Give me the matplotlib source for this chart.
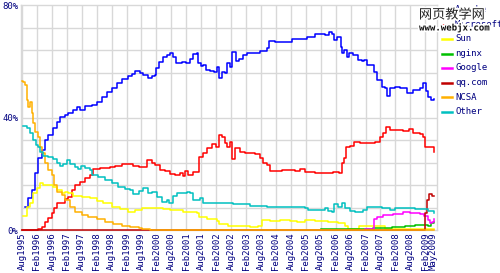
#!/usr/bin/env python3
"""
Web server market share, Aug 1995 - May 2009 (Netcraft style chart).
"""

import matplotlib
matplotlib.use("Agg")
import matplotlib.pyplot as plt
import matplotlib.patheffects as pe

# x values are months since Aug 1995, y values are market share in percent
apache_m = [1.2, 2.5, 3.9, 5.2, 6.5, 7.9, 9.2, 10.6, 12.6, 13.9, 15.3, 17.3, 18.6, 20.6, 22.0,
            23.3, 25.3, 28.0, 30.0, 32.0, 34.0, 36.0, 38.0, 40.0, 42.7, 44.1, 45.4, 47.4, 48.7,
            50.5, 52.1, 53.4, 53.8, 55.0, 56.6, 58.2, 59.4, 60.6, 61.8, 64.3, 65.9, 67.5, 68.7,
            70.3, 70.7, 71.9, 72.7, 73.9, 75.5, 77.1, 78.3, 79.1, 80.3, 81.5, 82.3, 83.5, 84.3,
            85.9, 87.1, 88.7, 90.4, 93.6, 95.6, 98.4, 99.2, 101.6, 106.4, 108.4, 112.9, 114.5,
            117.7, 120.5, 121.7, 123.3, 124.5, 125.3, 126.5, 127.3, 128.1, 128.5, 129.3, 130.5,
            131.3, 132.9, 134.9, 136.5, 137.3, 138.6, 140.6, 141.4, 142.6, 144.6, 145.8, 146.6,
            147.8, 149.8, 151.8, 154.6, 157.0, 159.8, 161.0, 162.2, 163.1, 164.3, 165.5]
apache_v = [8.2, 11.4, 14.2, 20.3, 25.6, 28.5, 32.0, 33.8, 36.3, 38.4, 40.2, 40.9, 41.6, 42.7, 43.8,
            42.7, 44.1, 44.5, 45.6, 47.3, 49.1, 50.5, 52.3, 53.7, 54.8, 55.5, 56.6, 55.9, 55.2,
            54.1, 54.8, 55.2, 57.7, 59.8, 61.6, 62.3, 63.0, 61.6, 59.4, 59.8, 59.4, 60.9, 62.6,
            63.0, 59.4, 58.4, 58.7, 56.9, 56.6, 56.2, 58.0, 54.1, 56.2, 55.9, 59.4, 58.0, 63.3,
            60.1, 60.9, 62.3, 63.0, 63.0, 63.7, 64.8, 67.3, 66.9, 66.9, 68.0, 68.0, 68.7,
            69.8, 69.8, 69.4, 70.5, 69.8, 67.6, 68.7, 68.7, 65.1, 63.0, 64.1, 61.6,
            63.0, 62.3, 60.5, 60.1, 60.5, 58.7, 58.7, 56.2, 53.4, 50.9, 50.5, 47.7,
            50.5, 50.9, 50.5, 48.8, 49.8, 50.5, 52.3, 49.5, 47.3, 46.3, 46.6]

microsoft_m = [0.0, 6.5, 7.9, 9.2, 10.6, 11.9, 13.0, 13.9, 15.9, 17.3, 18.6, 20.0, 21.3, 23.3, 25.3,
               27.3, 28.7, 31.3, 33.4, 35.4, 37.4, 40.0, 42.7, 44.7, 46.8, 48.7, 50.1, 52.1, 53.4,
               55.4, 57.4, 59.4, 61.4, 63.5, 64.7, 65.5, 66.7, 68.7, 70.7, 71.1, 72.7, 74.3, 76.3,
               77.9, 79.1, 80.3, 81.5, 82.3, 83.5, 84.3, 85.5, 87.6, 89.6, 91.6, 93.6, 95.6, 96.8,
               98.4, 99.6, 101.6, 104.4, 107.6, 109.6, 111.6, 113.7, 117.7, 120.5, 122.9, 124.9,
               127.3, 128.5, 129.3, 130.1, 131.7, 133.3, 135.7, 138.6, 141.8, 143.8, 145.0, 146.2,
               147.8, 150.6, 153.0, 155.4, 157.0, 159.8, 161.0, 161.8, 163.1, 164.7, 165.5]
microsoft_v = [0.0, 0.4, 1.1, 2.8, 4.3, 6.0, 7.8, 9.6, 9.6, 11.0, 11.7, 14.2, 16.0, 17.1, 18.5,
               19.6, 21.7, 22.1, 22.1, 22.4, 22.8, 23.5, 23.5, 22.8, 22.4, 22.4, 24.9, 23.8, 23.1,
               21.4, 21.0, 19.9, 19.6, 20.3, 19.2, 21.0, 19.6, 20.6, 20.6, 26.0, 27.4, 29.2, 30.6,
               29.5, 33.8, 33.1, 31.0, 29.5, 31.3, 25.3, 29.2, 27.8, 27.4, 27.4, 27.0, 25.6, 23.8,
               23.1, 21.0, 21.0, 21.4, 21.4, 21.0, 21.7, 20.6, 20.3, 20.3, 20.3, 20.6,
               20.3, 23.8, 25.6, 29.5, 29.9, 31.3, 31.0, 31.0, 31.3, 33.1, 34.5, 36.7,
               35.6, 35.6, 35.2, 35.9, 34.5, 34.2, 33.1, 29.5, 29.5, 29.5, 27.8]

sun_m = [0.5, 1.9, 3.2, 4.5, 5.9, 7.2, 8.6, 10.6, 12.6, 13.9, 15.9, 17.3, 18.6, 20.6, 24.0, 27.3,
         30.0, 32.7, 36.0, 39.4, 42.7, 45.4, 48.1, 51.4, 56.6, 59.4, 64.7, 70.3, 71.1, 74.3, 78.3,
         79.1, 82.8, 91.6, 94.8, 96.4, 99.6, 103.6, 107.6, 110.4, 113.7, 117.7, 123.0, 127.0,
         129.7, 130.9, 134.5, 135.3, 141.0, 145.8, 149.8, 165.5]
sun_v = [5.0, 8.2, 9.6, 13.2, 14.9, 16.7, 16.0, 16.0, 15.3, 14.2, 13.2, 13.5, 13.2, 12.1, 11.7, 11.4,
         10.3, 9.6, 8.2, 7.5, 6.4, 7.1, 7.8, 7.8, 7.5, 7.1, 6.4, 6.0, 4.6, 3.9, 3.2,
         2.1, 1.4, 1.1, 1.4, 3.6, 3.2, 3.6, 3.2, 2.8, 3.6, 3.2, 2.8, 2.5,
         1.4, 0.4, 0.4, 1.4, 1.4, 0.4, 0.2, 0.2]

nginx_m = [120.0, 141.1, 148.7, 154.0, 158.0, 161.2, 162.9, 164.1, 165.5]
nginx_v = [0.3, 0.6, 1.1, 1.4, 1.8, 1.8, 1.4, 2.5, 2.8]

google_m = [137.9, 140.7, 141.5, 142.7, 145.1, 149.1, 153.2, 156.0, 160.0, 161.6, 162.9, 163.7,
            164.7, 165.5]
google_v = [0.4, 0.4, 3.9, 4.6, 5.3, 5.7, 6.4, 6.0, 5.7, 5.0, 3.6, 2.5, 2.8, 3.9]

qq_m = [0.0, 161.7, 161.9, 162.7, 163.5, 164.7, 165.5]
qq_v = [0.0, 0.0, 6.0, 10.7, 12.8, 12.1, 12.1]

ncsa_m = [0.0, 0.5, 1.2, 1.9, 2.5, 3.2, 3.9, 4.5, 5.2, 6.3, 7.2, 8.2, 9.2, 10.6, 11.9, 13.0, 13.9,
          15.9, 17.3, 19.3, 21.3, 24.0, 26.7, 30.0, 33.4, 36.7, 40.0, 43.4, 46.8, 48.1, 51.5, 165.5]
ncsa_v = [53.0, 52.7, 51.6, 46.3, 43.8, 45.6, 41.6, 38.1, 34.9, 33.1, 29.5, 27.4, 23.8, 21.4, 19.6,
          16.0, 13.5, 12.5, 10.7, 8.2, 6.4, 5.3, 4.6, 3.9, 2.8, 2.1, 1.4, 1.1, 0.7, 0.4, 0.0, 0.0]

other_m = [0.5, 1.9, 3.2, 4.5, 5.5, 6.3, 7.2, 8.6, 10.6, 12.6, 13.9, 15.3, 16.6, 18.0, 19.3, 21.3,
           22.6, 23.7, 25.3, 27.3, 28.2, 30.6, 33.4, 36.0, 38.7, 41.4, 43.4, 44.7, 46.8, 48.7,
           50.5, 52.3, 54.2, 56.2, 58.2, 59.0, 60.6, 62.2, 64.3, 66.3, 67.5, 68.7, 70.3, 71.5,
           72.7, 74.7, 78.3, 84.7, 91.6, 98.4, 107.6, 113.7, 114.9, 120.5, 121.7, 123.0, 124.5,
           125.3, 127.0, 128.5, 129.7, 131.7, 133.7, 137.0, 138.6, 141.8, 144.6, 147.8, 149.8,
           153.8, 157.8, 161.0, 163.1, 165.5]
other_v = [37.0, 36.3, 34.5, 32.0, 30.2, 29.5, 27.8, 26.3, 26.0, 25.3, 23.8, 22.8, 23.5, 24.9, 23.5,
           22.4, 21.7, 22.8, 22.1, 21.4, 19.6, 18.9, 17.8, 16.7, 15.3, 14.6, 14.2, 12.8, 13.9, 14.9,
           13.2, 13.5, 11.7, 10.0, 10.7, 9.6, 12.1, 13.2, 13.2, 13.5, 13.2, 10.7, 10.7, 11.4,
           9.6, 9.6, 9.6, 9.3, 8.5, 8.2, 8.2, 7.8, 7.1, 7.1, 7.8, 6.8, 6.4,
           9.3, 8.2, 9.6, 7.8, 6.8, 6.4, 7.1, 8.2, 8.2, 7.8, 7.1, 7.8,
           7.8, 7.5, 7.5, 6.8, 6.0]

series_names = ["Apache", "Microsoft", "Sun", "nginx", "Google", "qq.com", "NCSA", "Other"]
series_colors = ["#0000ff", "#ff0000", "#ffff00", "#00c000", "#ff00ff", "#c00000", "#ffb000", "#00c0c0"]

tick_months = list(range(0, 163, 6)) + [165]
tick_labels = []
for i, m in enumerate(range(0, 163, 6)):
    year = 1995 + (7 + m) // 12
    tick_labels.append(("Aug" if m % 12 == 0 else "Feb") + str(year))
tick_labels.append("May2009")

NAVY = "#000080"
GRID = "#d8d8d8"
MONO = "DejaVu Sans Mono"


def main() -> int:
    fig = plt.figure(figsize=(5.0, 2.73), dpi=100)
    ax = fig.add_axes([0.042, 0.1575, 0.832, 0.824])
    ax.set_xlim(-0.4, 166.7)
    ax.set_ylim(0, 80)

    for m in range(0, 163, 6):
        ax.axvline(m, color=GRID, lw=1.0, zorder=0)
    for v in [8, 16, 24, 32, 40, 56, 64, 72]:
        ax.axhline(v, color=GRID, lw=1.0, zorder=0)
    for s in ax.spines.values():
        s.set_color(GRID)
        s.set_linewidth(1.0)

    data = [
        (microsoft_m, microsoft_v),
        (apache_m, apache_v),
        (sun_m, sun_v),
        (nginx_m, nginx_v),
        (google_m, google_v),
        (qq_m, qq_v),
        (ncsa_m, ncsa_v),
        (other_m, other_v),
    ]
    order = [1, 0, 2, 3, 4, 5, 6, 7]
    for (xs, ys), idx in zip(data, order):
        ax.step(xs, ys, where="post", color=series_colors[idx], lw=1.1, clip_on=False, zorder=3)

    ax.set_yticks([0, 40, 80])
    ax.set_yticklabels(["0%", "40%", "80%"], family=MONO, fontsize=6.5, color=NAVY)
    ax.set_xticks(tick_months)
    ax.set_xticklabels(tick_labels, rotation=90, family=MONO, fontsize=6.5, color=NAVY)
    ax.tick_params(length=0, pad=2)

    # legend on the right
    for i, (name, color) in enumerate(zip(series_names, series_colors)):
        y = 1 - (10 + i * 14.5) / 273
        fig.add_artist(plt.Line2D([442 / 500, 452 / 500], [y, y], color=color, lw=1.8))
        fig.text(455 / 500, y, name, family=MONO, fontsize=6.5, color=NAVY, va="center")

    stroke = [pe.withStroke(linewidth=2.5, foreground="white")]
    fig.text(452 / 500, 1 - 15 / 273, "网页教学网", family=["Noto Sans CJK SC", "DejaVu Sans"],
             fontsize=9.5, color="#222222", ha="center", va="center", path_effects=stroke)
    fig.text(454 / 500, 1 - 28 / 273, "www.webjx.com", family=MONO, fontsize=6.5,
             fontweight="bold", color="#111111", ha="center", va="center", path_effects=stroke)

    fig.savefig("out.png", dpi=100)
    plt.close(fig)
    return 0


if __name__ == "__main__":
    raise SystemExit(main())
